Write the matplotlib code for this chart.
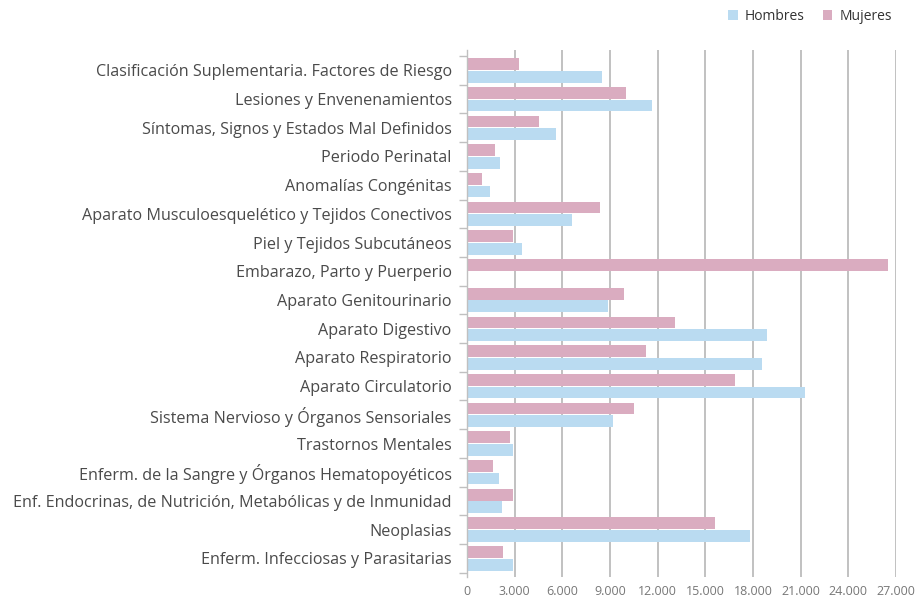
import numpy as np
import matplotlib.pyplot as plt

# Data
categorias = [
    "Clasificación Suplementaria. Factores de Riesgo",
    "Lesiones y Envenenamientos",
    "Síntomas, Signos y Estados Mal Definidos",
    "Periodo Perinatal",
    "Anomalías Congénitas",
    "Aparato Musculoesquelético y Tejidos Conectivos",
    "Piel y Tejidos Subcutáneos",
    "Embarazo, Parto y Puerperio",
    "Aparato Genitourinario",
    "Aparato Digestivo",
    "Aparato Respiratorio",
    "Aparato Circulatorio",
    "Sistema Nervioso y Órganos Sensoriales",
    "Trastornos Mentales",
    "Enferm. de la Sangre y Órganos Hematopoyéticos",
    "Enf. Endocrinas, de Nutrición, Metabólicas y de Inmunidad",
    "Neoplasias",
    "Enferm. Infecciosas y Parasitarias",
]
hombres = [8470, 11660, 5580, 2070, 1440, 6590, 3450, 0, 8900, 18880,
           18560, 21260, 9220, 2890, 2010, 2200, 17810, 2890]
mujeres = [3260, 10030, 4520, 1760, 940, 8340, 2890, 26470, 9850, 13110,
           11290, 16870, 10540, 2700, 1630, 2890, 15620, 2260]
xticks = np.arange(0, 27001, 3000)

azul = '#badbf1'
rosa = '#daacc0'
gris_txt = '#4a4a4a'

plt.rcParams['font.family'] = ['Open Sans', 'DejaVu Sans']

fig = plt.figure(figsize=(9.18, 6.02), dpi=100)
ax = fig.add_axes([467 / 918, (602 - 577) / 602, (896 - 467) / 918, (577 - 50) / 602])

y = np.arange(len(categorias))
ax.barh(y - 0.22, mujeres, height=0.41, color=rosa, label='Mujeres', zorder=3)
ax.barh(y + 0.22, hombres, height=0.41, color=azul, label='Hombres', zorder=3)

ax.set_ylim(len(categorias) - 0.5 + 0.15, -0.5 - 0.21)
ax.set_xlim(0, 27000)

# category labels at centres, small ticks at band edges
ax.set_yticks(y)
ax.set_yticklabels(categorias, fontsize=11.6, color=gris_txt)
ax.tick_params(axis='y', which='major', length=0, pad=11)
ax.set_yticks(np.arange(len(categorias) + 1) - 0.5, minor=True)
ax.tick_params(axis='y', which='minor', length=6, width=1, color='#c0c0c0')

ax.set_xticks(xticks)
ax.set_xticklabels([f"{v:,}".replace(",", ".") for v in xticks], fontsize=9, color='#777777')
ax.tick_params(axis='x', length=0, pad=6)

ax.grid(axis='x', color='#bcbcbc', linewidth=1.3, zorder=0)
for s in ['top', 'right', 'bottom']:
    ax.spines[s].set_visible(False)
ax.spines['left'].set_color('#c0c0c0')
ax.spines['left'].set_linewidth(1)
ax.spines['left'].set_zorder(4)

handles, labels = ax.get_legend_handles_labels()
leg = fig.legend(handles[::-1], labels[::-1], loc='upper right', bbox_to_anchor=(0.985, 1.006),
                 ncol=2, frameon=False, fontsize=10, handlelength=0.7, handleheight=0.7,
                 handletextpad=0.5, columnspacing=1.3)
for t in leg.get_texts():
    t.set_color('#333333')

fig.savefig('out.png', dpi=100)
